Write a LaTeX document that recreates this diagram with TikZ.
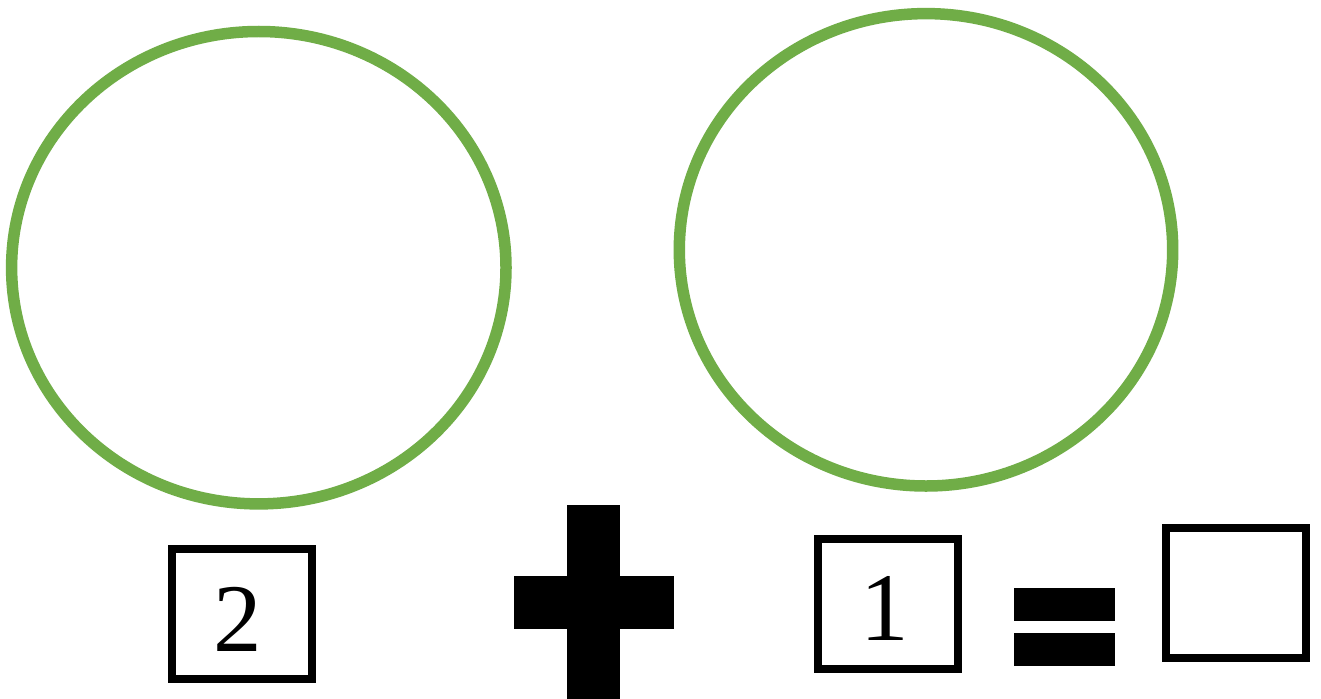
\documentclass[tikz,border=0pt]{standalone}
\usepackage{fontspec}
\setmainfont{Liberation Serif}
\usetikzlibrary{shapes.geometric}
\definecolor{ringgreen}{HTML}{70AD47}
\begin{document}
\begin{tikzpicture}[x=1pt,y=-1pt,
  ring/.style={ellipse,draw=ringgreen,line width=11.5pt,inner sep=0pt},
  numbox/.style={rectangle,draw=black,line width=8pt,inner sep=0pt,minimum width=140pt,minimum height=130pt},
  digit/.style={inner sep=0pt,anchor=base,font=\fontsize{97pt}{97pt}\selectfont},
  bar/.style={rectangle,fill=black,inner sep=0pt}
]
\useasboundingbox[fill=white] (0,0) rectangle (1321,698);
% rings
\node[ring,minimum width=494.4pt,minimum height=472.4pt] (ringL) at (258.8,267.7) {};
\node[ring,minimum width=493.4pt,minimum height=472.4pt] (ringR) at (926,249.8) {};
% boxes
\node[numbox] (boxA) at (242,614) {};
\node[digit] (dA) at (238,651) {2};
\node[numbox,minimum width=140.5pt] (boxB) at (887.75,604) {};
\node[digit] (dB) at (885,640) {1};
\node[numbox] (boxC) at (1235.5,592.5) {};
% plus
\node[bar,minimum width=53pt,minimum height=194pt] (plusV) at (593.5,601.5) {};
\node[bar,minimum width=160pt,minimum height=53pt] (plusH) at (593.5,602.3) {};
% equals
\node[bar,minimum width=101.3pt,minimum height=32.7pt] (eqT) at (1064.7,604.6) {};
\node[bar,minimum width=101.3pt,minimum height=32.7pt] (eqB) at (1064.7,649.6) {};
\end{tikzpicture}
\end{document}
